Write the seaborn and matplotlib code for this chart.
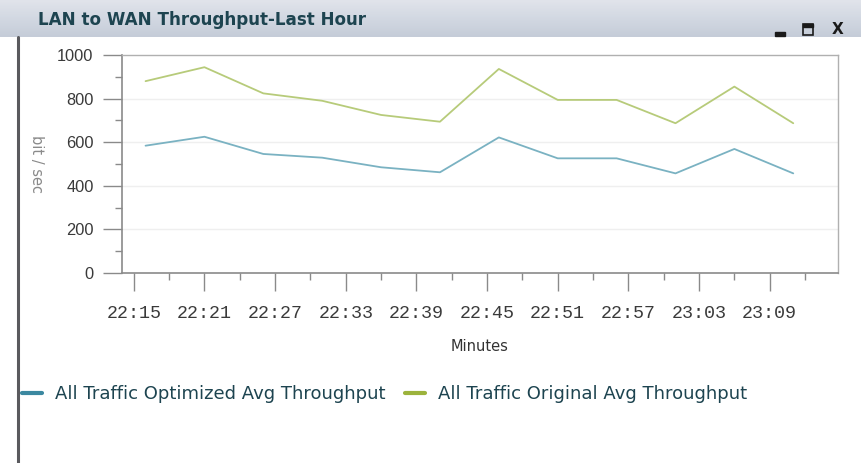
import numpy as np
import pandas as pd
import matplotlib
matplotlib.use("Agg")
import matplotlib.pyplot as plt
from matplotlib.lines import Line2D
from matplotlib.patches import Rectangle
from matplotlib.ticker import FixedLocator, MultipleLocator
import seaborn as sns

# ---- data -------------------------------------------------------------
times = ["22:16", "22:21", "22:26", "22:31", "22:36", "22:41",
         "22:46", "22:51", "22:56", "23:01", "23:06", "23:11"]
optimized = [584, 625, 546, 529, 485, 462, 622, 526, 526, 457, 569, 457]
original = [880, 944, 824, 790, 725, 694, 936, 794, 794, 687, 855, 687]
tick_labels = ["22:15", "22:21", "22:27", "22:33", "22:39", "22:45",
               "22:51", "22:57", "23:03", "23:09"]
series_names = ["All Traffic Optimized Avg Throughput",
                "All Traffic Original Avg Throughput"]
title = "LAN to WAN Throughput-Last Hour"


def minutes(label):
    h, m = label.split(":")
    return (int(h) - 22) * 60 + int(m)


df = pd.DataFrame({
    "minute": [minutes(t) for t in times] * 2,
    "value": optimized + original,
    "series": [series_names[0]] * len(times) + [series_names[1]] * len(times),
})

# ---- figure -----------------------------------------------------------
W, H = 861, 463
DPI = 100
sns.set_style("white")
plt.rcParams["font.family"] = ["DejaVu Sans"]
fig = plt.figure(figsize=(W / DPI, H / DPI), dpi=DPI, facecolor="white")


def fx(px):
    return px / W


def fy(py):
    return 1 - py / H


# window title bar
bar_h = 37
bar = fig.add_axes([0, fy(bar_h), 1, bar_h / H])
grad = np.linspace(0, 1, 64).reshape(-1, 1)
cmap = matplotlib.colors.LinearSegmentedColormap.from_list(
    "bar", ["#e1e4eb", "#d2d8e2", "#c5ccd8"])
bar.imshow(grad, aspect="auto", cmap=cmap, extent=[0, 1, 0, 1], origin="upper")
bar.set_axis_off()
fig.text(fx(38), fy(20), title, fontsize=12.1, fontweight="bold",
         color="#1d4450", va="center", ha="left")

# window controls
fig.patches.append(Rectangle((fx(775), fy(36)), 10 / W, 4 / H,
                             transform=fig.transFigure, color="#1a1a1a"))
fig.patches.append(Rectangle((fx(803), fy(35)), 10 / W, 11 / H,
                             transform=fig.transFigure, facecolor="none",
                             edgecolor="#1a1a1a", lw=1.2))
fig.patches.append(Rectangle((fx(803), fy(27)), 10 / W, 3 / H,
                             transform=fig.transFigure, color="#1a1a1a"))
fig.text(fx(838), fy(30), "X", fontsize=11, fontweight="bold",
         color="#1a1a1a", ha="center", va="center")

# left window border
fig.lines.append(Line2D([fx(18), fx(18)], [fy(bar_h), 0],
                        transform=fig.transFigure, color="#5a5a5e", lw=2.2))

# ---- chart ------------------------------------------------------------
left, right, top, bottom = 122, 838, 55, 273
ax = fig.add_axes([fx(left), fy(bottom), (right - left) / W, (bottom - top) / H])

palette = {series_names[0]: "#7ab2c2", series_names[1]: "#b7cb7a"}
sns.lineplot(data=df, x="minute", y="value", hue="series", palette=palette,
             linewidth=1.3, legend=False, ax=ax)

ax.set_xlim(14, 74.8)
ax.set_ylim(0, 1000)

ax.xaxis.set_major_locator(FixedLocator([minutes(t) for t in tick_labels]))
ax.set_xticklabels(tick_labels, fontfamily="Liberation Mono", fontsize=13.2,
                   color="#3a3a3a")
ax.xaxis.set_minor_locator(FixedLocator([minutes(t) + 3 for t in tick_labels]))
ax.yaxis.set_major_locator(MultipleLocator(200))
ax.yaxis.set_minor_locator(MultipleLocator(100))
for lab in ax.get_yticklabels():
    lab.set_fontfamily("Liberation Sans")
ax.tick_params(axis="y", which="major", labelsize=11.8, labelcolor="#3a3a3a")

ax.tick_params(axis="both", which="both", direction="out", color="#8a8a8a",
               width=1.0)
ax.tick_params(axis="x", which="major", length=13, pad=10)
ax.tick_params(axis="x", which="minor", length=5)
ax.tick_params(axis="y", which="major", length=13.5, pad=7)
ax.tick_params(axis="y", which="minor", length=5)
ax.tick_params(left=True, bottom=True, which="both")

for side in ["left", "bottom"]:
    ax.spines[side].set_color("#8a8a8a")
    ax.spines[side].set_linewidth(1.2)
for side in ["top", "right"]:
    ax.spines[side].set_color("#b0b0b0")
    ax.spines[side].set_linewidth(1.0)

for v in [200, 400, 600, 800]:
    ax.axhline(v, color="#efefef", lw=1.0, zorder=0)

ax.set_xlabel("Minutes", fontsize=10.5, color="#333333", labelpad=12)
ax.set_ylabel("bit / sec", fontsize=10.5, color="#8a8a8a", rotation=270,
              labelpad=20, va="bottom")

# legend
handles = [Line2D([], [], color="#3b88a0", lw=3),
           Line2D([], [], color="#9cb33c", lw=3)]
fig.legend(handles, series_names, loc="center left",
           bbox_to_anchor=(fx(22), fy(394)), ncol=2, frameon=False,
           fontsize=13, labelcolor="#1d4450", handlelength=1.1,
           handletextpad=0.72, columnspacing=1.1, borderpad=0,
           borderaxespad=0)

fig.savefig("out.png", dpi=DPI, facecolor="white")
